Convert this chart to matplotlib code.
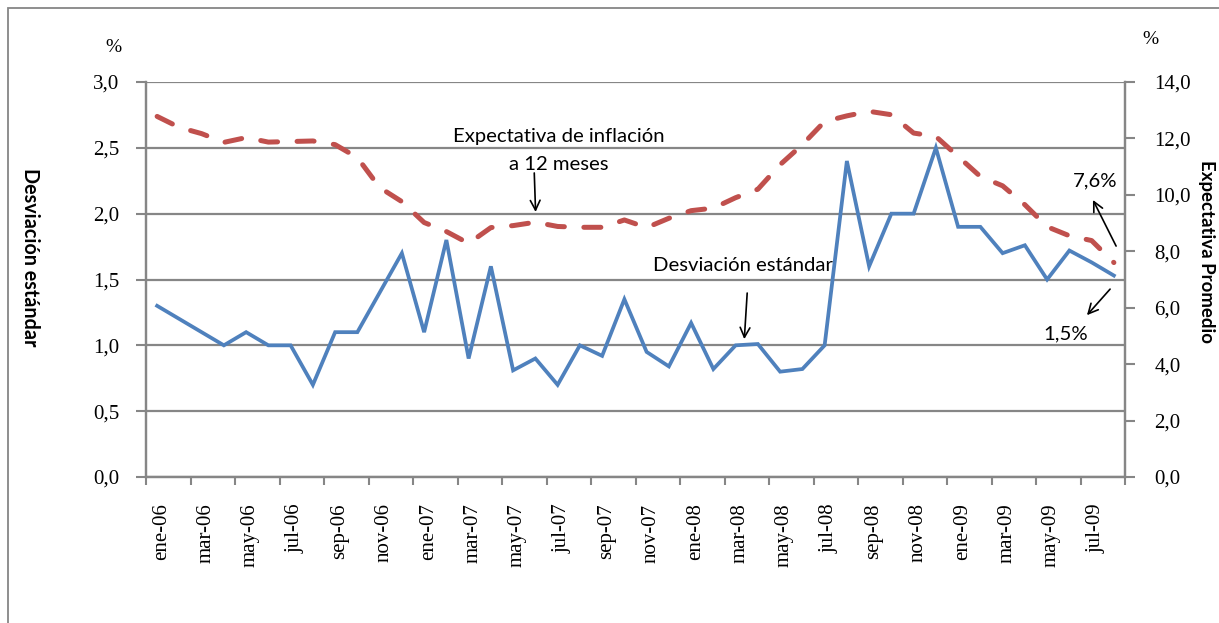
import matplotlib
matplotlib.use("Agg")
import matplotlib.pyplot as plt
from matplotlib.patches import Rectangle
from matplotlib.ticker import FuncFormatter

months = ["ene-06", "feb-06", "mar-06", "abr-06", "may-06", "jun-06", "jul-06", "ago-06",
          "sep-06", "oct-06", "nov-06", "dic-06", "ene-07", "feb-07", "mar-07", "abr-07",
          "may-07", "jun-07", "jul-07", "ago-07", "sep-07", "oct-07", "nov-07", "dic-07",
          "ene-08", "feb-08", "mar-08", "abr-08", "may-08", "jun-08", "jul-08", "ago-08",
          "sep-08", "oct-08", "nov-08", "dic-08", "ene-09", "feb-09", "mar-09", "abr-09",
          "may-09", "jun-09", "jul-09", "ago-09"]

desviacion = [1.30, 1.20, 1.10, 1.00, 1.10, 1.00, 1.00, 0.70, 1.10, 1.10, 1.40, 1.70,
              1.10, 1.80, 0.90, 1.60, 0.81, 0.90, 0.70, 1.00, 0.92, 1.35, 0.95, 0.84,
              1.17, 0.82, 1.00, 1.01, 0.80, 0.82, 1.00, 2.40, 1.60, 2.00, 2.00, 2.50,
              1.90, 1.90, 1.70, 1.76, 1.50, 1.72, 1.63, 1.53]

expectativa = [12.78, 12.39, 12.17, 11.86, 12.03, 11.87, 11.89, 11.91, 11.78, 11.32, 10.26, 9.76,
               9.02, 8.70, 8.28, 8.84, 8.91, 9.03, 8.88, 8.85, 8.85, 9.11, 8.84, 9.17,
               9.44, 9.53, 9.90, 10.20, 11.07, 11.78, 12.60, 12.80, 12.96, 12.84, 12.19, 12.07,
               11.36, 10.65, 10.32, 9.65, 8.87, 8.55, 8.38, 7.60]

left_ticks = [0.0, 0.5, 1.0, 1.5, 2.0, 2.5, 3.0]
right_ticks = [0, 2, 4, 6, 8, 10, 12, 14]

W, H = 1219, 623
fig = plt.figure(figsize=(W / 100, H / 100), dpi=100)

def fx(px):
    return px / W

def fy(py):
    return 1 - py / H

ax = fig.add_axes([fx(146), fy(477), (1125 - 146) / W, (477 - 82) / H])
ax2 = ax.twinx()

GRID = "#868686"
BLUE = "#4F81BD"
RED = "#C0504D"
serif = "Liberation Serif"
sans = ["Lato", "DejaVu Sans"]

x = list(range(len(months)))
ax.plot(x, desviacion, color=BLUE, lw=2.7, solid_joinstyle="miter", zorder=3)
ax2.plot(x, expectativa, color=RED, lw=3.6, linestyle=(0, (3.4, 3.9)),
         dash_capstyle="round", zorder=3)

ax.set_xlim(-0.5, len(months) - 0.5)
ax.set_ylim(0, 3.0)
ax2.set_ylim(0, 14)

# x axis: tick marks every 2 categories on boundaries, labels on categories
ax.set_xticks([i - 0.5 for i in range(0, len(months) + 1, 2)])
ax.set_xticks([i + 0.2 for i in x[::2]], minor=True)
ax.set_xticklabels([])
ax.set_xticklabels(months[::2], minor=True, rotation=90, fontfamily=serif, fontsize=15)
ax.tick_params(axis="x", which="major", length=6, width=1.5, color=GRID, direction="out")
ax.tick_params(axis="x", which="minor", length=0, pad=19)

fmt_l = FuncFormatter(lambda v, p: f"{v:.1f}".replace(".", ","))
ax.set_yticks(left_ticks)
ax.yaxis.set_major_formatter(fmt_l)
ax.tick_params(axis="y", length=7, width=1.5, color=GRID, pad=12, labelsize=15)
for lbl in ax.get_yticklabels():
    lbl.set_fontfamily(serif)

ax2.set_yticks(right_ticks)
ax2.yaxis.set_major_formatter(fmt_l)
ax2.tick_params(axis="y", length=7, width=1.5, color=GRID, pad=14, labelsize=15)
for lbl in ax2.get_yticklabels():
    lbl.set_fontfamily(serif)

ax.grid(axis="y", color=GRID, lw=1.6)
ax.set_axisbelow(True)
for a in (ax, ax2):
    a.spines["top"].set_visible(False)
    for s in ("left", "right", "bottom"):
        a.spines[s].set_color(GRID)
        a.spines[s].set_linewidth(1.6)

# annotations (data coordinates of the left axis)
fs = 14.6
ax.text(18.04, 2.583, "Expectativa de inflación", ha="center", va="center",
        fontfamily=sans, fontsize=fs)
ax.text(18.06, 2.377, "a 12 meses", ha="center", va="center", fontfamily=sans, fontsize=fs)
ax.text(26.35, 1.61, "Desviación estándar", ha="center", va="center", fontfamily=sans, fontsize=fs)
ax.text(42.15, 2.249, "7,6%", ha="center", va="center", fontfamily=sans, fontsize=fs)
ax.text(40.85, 1.085, "1,5%", ha="center", va="center", fontfamily=sans, fontsize=fs)

arrows = [((16.95, 2.309), (17.01, 2.013)),
          ((26.52, 1.397), (26.39, 1.047)),
          ((43.10, 1.754), (42.06, 2.104)),
          ((42.83, 1.427), (41.79, 1.229))]
for tail, head in arrows:
    ax.annotate("", xy=head, xytext=tail,
                arrowprops=dict(arrowstyle="->,head_length=0.7,head_width=0.35",
                                color="black", lw=1.2, shrinkA=0, shrinkB=0),
                zorder=5)

# percent signs and axis titles
fig.text(fx(113), fy(47), "%", ha="center", va="center", fontfamily=serif, fontsize=14)
fig.text(fx(1150), fy(40), "%", ha="center", va="center", fontfamily=serif, fontsize=14)
fig.text(fx(30), fy(257), "Desviación estándar", rotation=270, ha="center", va="center",
         fontfamily=sans, fontweight="bold", fontsize=14.2)
fig.text(fx(1206), fy(251), "Expectativa Promedio", rotation=270, ha="center", va="center",
         fontfamily=sans, fontweight="bold", fontsize=13.4)

# outer chart border (clipped at right and bottom)
fig.patches.append(Rectangle((fx(8), -0.05), 1.2, fy(8) + 0.05, transform=fig.transFigure,
                             fill=False, edgecolor=GRID, lw=1.3))

fig.savefig("out.png", dpi=100)
